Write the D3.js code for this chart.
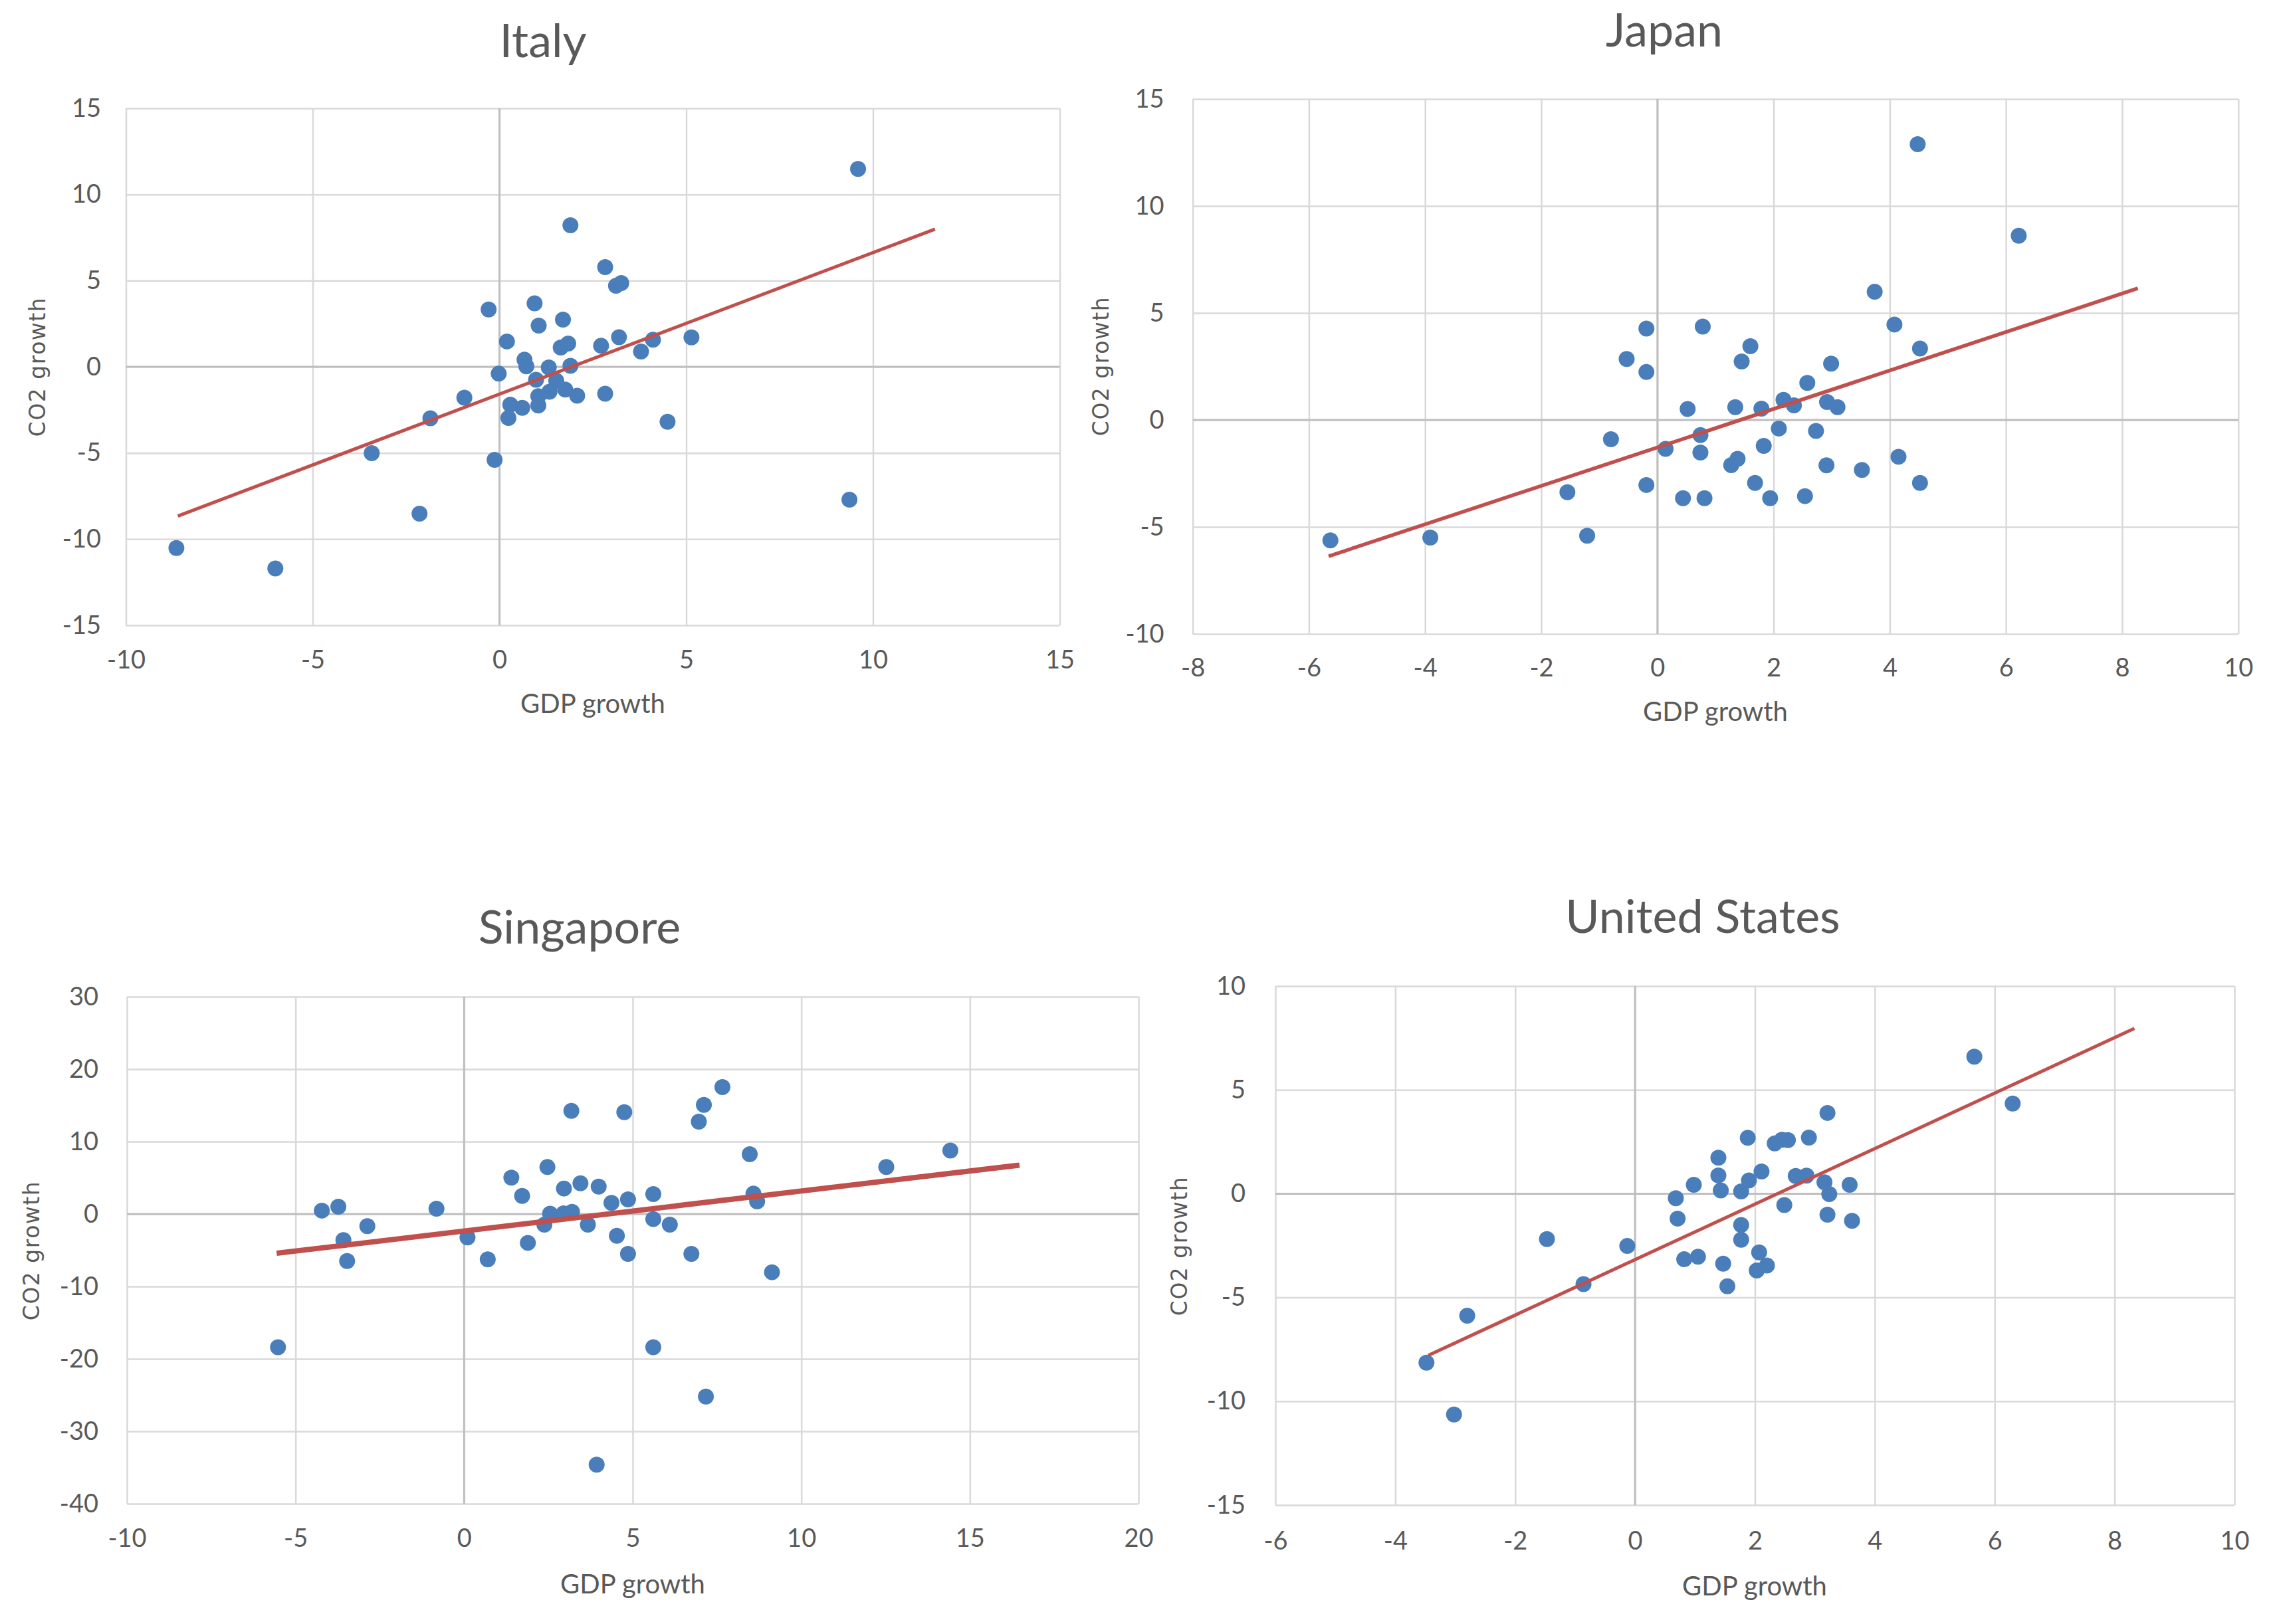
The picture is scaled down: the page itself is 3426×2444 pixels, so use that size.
<!DOCTYPE html>
<html>
<head>
<meta charset="utf-8">
<script src="https://cdn.jsdelivr.net/npm/d3@7"></script>
<style>
  html, body { margin: 0; padding: 0; background: #fff; }
  svg { display: block; }
</style>
</head>
<body>
<div class="chart-container"></div>
<script>

// GDP growth / CO2 growth pairs
const italyPoints = [
    [2.83, 5.78], [3.12, 4.70], [3.26, 4.86], [-0.29, 3.33], [0.94, 3.68], [1.05, 2.39],
    [1.70, 2.74], [0.20, 1.47], [1.64, 1.12], [1.84, 1.35], [2.72, 1.22], [3.20, 1.72],
    [4.11, 1.57], [3.79, 0.89], [5.14, 1.71], [0.67, 0.41], [0.72, 0.03], [1.32, -0.04],
    [1.90, 0.06], [-0.02, -0.40], [0.98, -0.75], [1.52, -0.81], [1.34, -1.45], [1.76, -1.32],
    [2.08, -1.68], [1.04, -1.71], [1.04, -2.25], [0.29, -2.20], [0.61, -2.38], [0.24, -2.97],
    [2.83, -1.56], [-0.94, -1.79], [-1.85, -2.99], [4.50, -3.19], [-0.13, -5.40], [1.90, 8.21],
    [9.60, 11.48], [-3.42, -5.01], [-2.14, -8.52], [-8.65, -10.52], [-6.00, -11.70], [9.37, -7.71]
];
const japanPoints = [
    [3.74, 5.99], [4.08, 4.46], [4.52, 3.34], [-0.19, 4.27], [0.78, 4.36], [-0.53, 2.85],
    [-0.19, 2.24], [1.60, 3.45], [1.45, 2.73], [2.99, 2.63], [2.58, 1.73], [0.52, 0.51],
    [1.34, 0.60], [1.79, 0.53], [2.17, 0.94], [2.35, 0.68], [2.92, 0.84], [3.10, 0.60],
    [2.09, -0.40], [2.73, -0.51], [-0.80, -0.90], [0.74, -0.71], [0.74, -1.52], [0.14, -1.35],
    [1.83, -1.21], [1.27, -2.11], [1.38, -1.82], [1.68, -2.94], [2.91, -2.12], [3.52, -2.34],
    [4.15, -1.72], [4.52, -2.94], [-0.19, -3.04], [0.44, -3.66], [0.81, -3.66], [1.94, -3.66],
    [2.54, -3.56], [4.48, 12.89], [6.22, 8.61], [-5.63, -5.63], [-3.91, -5.50], [-1.55, -3.38],
    [-1.21, -5.41]
];
const singaporePoints = [
    [6.96, 12.75], [8.47, 8.26], [2.47, 6.48], [1.40, 5.02], [1.72, 2.51], [2.96, 3.52],
    [3.45, 4.25], [3.99, 3.79], [4.37, 1.53], [4.86, 2.02], [5.61, 2.75], [8.58, 2.81],
    [8.69, 1.74], [2.55, 0.05], [2.95, 0.10], [3.20, 0.30], [2.38, -1.47], [3.67, -1.47],
    [5.61, -0.70], [6.10, -1.47], [4.53, -3.00], [4.86, -5.50], [6.74, -5.50], [9.13, -8.04],
    [1.89, -3.98], [0.70, -6.27], [0.10, -3.24], [3.18, 14.25], [4.75, 14.05], [7.11, 15.06],
    [7.66, 17.52], [12.52, 6.49], [14.42, 8.76], [-4.22, 0.47], [-3.73, 1.00], [-3.58, -3.61],
    [-3.47, -6.49], [-2.87, -1.68], [-0.82, 0.73], [-5.52, -18.40], [5.61, -18.40], [7.17, -25.20],
    [3.93, -34.60]
];
const usPoints = [
    [3.21, 3.89], [1.88, 2.69], [2.33, 2.42], [2.45, 2.60], [2.55, 2.58], [2.90, 2.70],
    [1.39, 1.73], [1.39, 0.88], [1.43, 0.16], [0.98, 0.43], [0.68, -0.22], [0.71, -1.20],
    [1.77, 0.11], [1.90, 0.64], [2.11, 1.07], [2.68, 0.85], [2.86, 0.87], [3.16, 0.55],
    [3.24, -0.02], [3.58, 0.43], [2.49, -0.55], [3.21, -1.01], [3.62, -1.31], [1.77, -1.51],
    [1.77, -2.22], [0.82, -3.16], [1.05, -3.04], [1.47, -3.37], [1.54, -4.46], [2.07, -2.83],
    [2.20, -3.46], [2.03, -3.70], [5.66, 6.60], [6.30, 4.34], [-1.47, -2.19], [-0.13, -2.52],
    [-0.86, -4.36], [-2.80, -5.88], [-3.48, -8.14], [-3.02, -10.64]
];

// linear trend lines (start and end, in data units)
const italyTrend = [[-8.61, -8.66], [11.66, 7.99]];
const japanTrend = [[-5.66, -6.37], [8.27, 6.15]];
const singaporeTrend = [[-5.56, -5.42], [16.47, 6.75]];
const usTrend = [[-3.45, -7.79], [8.33, 7.96]];

// axis ranges and tick steps
const italyXTicks = d3.range(-10, 16, 5);
const italyYTicks = d3.range(-15, 16, 5);
const japanXTicks = d3.range(-8, 11, 2);
const japanYTicks = d3.range(-10, 16, 5);
const singaporeXTicks = d3.range(-10, 21, 5);
const singaporeYTicks = d3.range(-40, 31, 10);
const usXTicks = d3.range(-6, 11, 2);
const usYTicks = d3.range(-15, 11, 5);

const width = 3426;
const height = 2444;

const panels = [
    { title: "Italy", points: italyPoints, trend: italyTrend, xTicks: italyXTicks, yTicks: italyYTicks,
      box: [189.5, 1594.5, 163, 941], titlePos: [817, 86], xLab: [892, 1073], yLab: [68, 552],
      padX: 38, padY: 37.5, trendWidth: 5 },
    { title: "Japan", points: japanPoints, trend: japanTrend, xTicks: japanXTicks, yTicks: japanYTicks,
      box: [1794.6, 3367.8, 149, 954], titlePos: [2504, 70], xLab: [2581, 1085], yLab: [1668, 551],
      padX: 37, padY: 43, trendWidth: 5.5 },
    { title: "Singapore", points: singaporePoints, trend: singaporeTrend, xTicks: singaporeXTicks, yTicks: singaporeYTicks,
      box: [191, 1713, 1500, 2263], titlePos: [872, 1420], xLab: [952, 2398], yLab: [59, 1882],
      padX: 38, padY: 43, trendWidth: 8 },
    { title: "United States", points: usPoints, trend: usTrend, xTicks: usXTicks, yTicks: usYTicks,
      box: [1919, 3362, 1484, 2265], titlePos: [2562, 1404], xLab: [2640, 2401], yLab: [1786, 1875],
      padX: 40, padY: 45, trendWidth: 5 }
];

const textColor = "#595959";
const gridColor = "#d9d9d9";
const zeroColor = "#bfbfbf";
const dotColor = "#4a7ebb";
const trendColor = "#c0504d";

const svg = d3.select(".chart-container").append("svg")
    .attr("viewBox", [0, 0, width, height])
    .attr("width", width)
    .attr("height", height);

panels.forEach(p => {
    const [left, right, top, bottom] = p.box;

    const x = d3.scaleLinear()
        .domain(d3.extent(p.xTicks))
        .range([left, right]);
    const y = d3.scaleLinear()
        .domain(d3.extent(p.yTicks))
        .range([bottom, top]);

    const g = svg.append("g");

    // gridlines + tick labels through d3 axes
    const xAxis = g.append("g")
        .attr("transform", `translate(0,${bottom})`)
        .call(d3.axisBottom(x)
            .tickValues(p.xTicks)
            .tickSize(-(bottom - top))
            .tickPadding(p.padX)
            .tickFormat(d => String(d)));

    const yAxis = g.append("g")
        .attr("transform", `translate(${left},0)`)
        .call(d3.axisLeft(y)
            .tickValues(p.yTicks)
            .tickSize(-(right - left))
            .tickPadding(p.padY)
            .tickFormat(d => String(d)));

    [xAxis, yAxis].forEach(a => {
        a.select(".domain").remove();
        a.selectAll(".tick line")
            .attr("stroke", gridColor)
            .attr("stroke-width", 2.5);
        a.selectAll(".tick text")
            .attr("fill", textColor)
            .style("font-family", "Lato, 'Open Sans', sans-serif")
            .style("font-size", "38px");
    });

    // zero lines (axes crossing)
    g.append("line")
        .attr("x1", left).attr("x2", right)
        .attr("y1", y(0)).attr("y2", y(0))
        .attr("stroke", zeroColor).attr("stroke-width", 3);
    g.append("line")
        .attr("x1", x(0)).attr("x2", x(0))
        .attr("y1", top).attr("y2", bottom)
        .attr("stroke", zeroColor).attr("stroke-width", 3);

    g.append("g")
        .selectAll("circle")
        .data(p.points)
        .join("circle")
        .attr("cx", d => x(d[0]))
        .attr("cy", d => y(d[1]))
        .attr("r", 12)
        .attr("fill", dotColor);

    g.append("path")
        .datum(p.trend)
        .attr("fill", "none")
        .attr("stroke", trendColor)
        .attr("stroke-width", p.trendWidth)
        .attr("d", d3.line().x(d => x(d[0])).y(d => y(d[1])));

    g.append("text")
        .attr("x", p.titlePos[0])
        .attr("y", p.titlePos[1])
        .attr("text-anchor", "middle")
        .attr("fill", textColor)
        .style("font-family", "Lato, 'Open Sans', sans-serif")
        .style("font-size", "70px")
        .text(p.title);

    g.append("text")
        .attr("x", p.xLab[0])
        .attr("y", p.xLab[1])
        .attr("text-anchor", "middle")
        .attr("fill", textColor)
        .style("font-family", "Lato, 'Open Sans', sans-serif")
        .style("font-size", "40px")
        .text("GDP growth");

    g.append("text")
        .attr("transform", `translate(${p.yLab[0]},${p.yLab[1]}) rotate(-90)`)
        .attr("text-anchor", "middle")
        .attr("fill", textColor)
        .style("font-family", "'DejaVu Sans', sans-serif")
        .style("font-size", "33px")
        .style("letter-spacing", "1.5px")
        .text("CO2 growth");
});

</script>
</body>
</html>
